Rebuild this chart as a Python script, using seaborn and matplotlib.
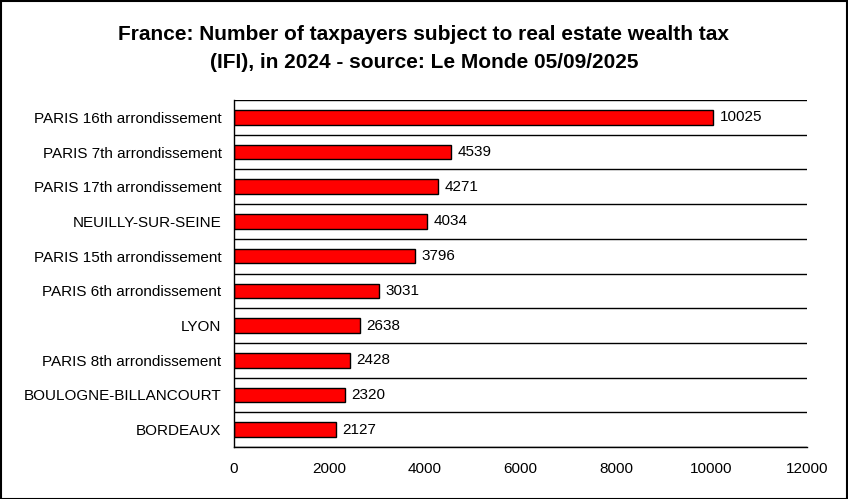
import matplotlib
matplotlib.use("Agg")
import matplotlib.pyplot as plt
import seaborn as sns
import pandas as pd
import numpy as np
from matplotlib.ticker import FixedLocator

categories = ["PARIS 16th arrondissement", "PARIS 7th arrondissement", "PARIS 17th arrondissement",
              "NEUILLY-SUR-SEINE", "PARIS 15th arrondissement", "PARIS 6th arrondissement",
              "LYON", "PARIS 8th arrondissement", "BOULOGNE-BILLANCOURT", "BORDEAUX"]
values = [10025, 4539, 4271, 4034, 3796, 3031, 2638, 2428, 2320, 2127]
xticks = [0, 2000, 4000, 6000, 8000, 10000, 12000]
title = "France: Number of taxpayers subject to real estate wealth tax\n(IFI), in 2024 - source: Le Monde 05/09/2025"

sns.set_style("white")
plt.rcParams['font.family'] = ['Liberation Sans', 'DejaVu Sans']
plt.rcParams['text.color'] = 'black'
plt.rcParams['xtick.color'] = 'black'
plt.rcParams['ytick.color'] = 'black'
plt.rcParams['axes.labelcolor'] = 'black'

df = pd.DataFrame({"city": categories, "n": values})

fig = plt.figure(figsize=(8.48, 4.99), dpi=100)
ax = fig.add_axes([234/848, 1-447/499, (807-234)/848, (447-100)/499])
sns.barplot(data=df, y="city", x="n", orient="h", color="#ff0000", edgecolor="black",
            linewidth=1, width=0.42, saturation=1, ax=ax)

ax.set_xlim(0, 12000)
ax.set_ylim(len(categories)-0.5, -0.5)
ax.set_xticks(xticks)
ax.set_xticklabels([str(t) for t in xticks], fontsize=11)
ax.set_xlabel("")
ax.set_ylabel("")
ax.tick_params(axis='y', which='major', length=0, labelsize=11, pad=9)
ax.yaxis.set_minor_locator(FixedLocator(np.arange(-0.5, len(categories), 1)))
ax.tick_params(axis='y', which='minor', length=5, width=1, color='black', direction='out')
ax.tick_params(axis='x', which='major', length=5, width=1, color='black', direction='out', pad=6)
ax.grid(False)
ax.yaxis.grid(True, which='minor', color='black', linewidth=1)
for s in ['top', 'right']:
    ax.spines[s].set_visible(False)
for s in ['left', 'bottom']:
    ax.spines[s].set_color('black')
    ax.spines[s].set_linewidth(1)

for i, v in enumerate(values):
    ax.text(v + 140, i, str(v), va='center', ha='left', fontsize=11, color='black')

fig.text(0.5, 1-49/499, title, ha='center', va='center', fontsize=15, fontweight='bold',
         linespacing=1.6, color='black')

border = plt.Rectangle((0.5/848, 0.5/499), 1-1.5/848, 1-1.5/499, transform=fig.transFigure,
                       fill=False, edgecolor='black', linewidth=1.5)
fig.patches.append(border)

fig.savefig("out.png", dpi=100)
